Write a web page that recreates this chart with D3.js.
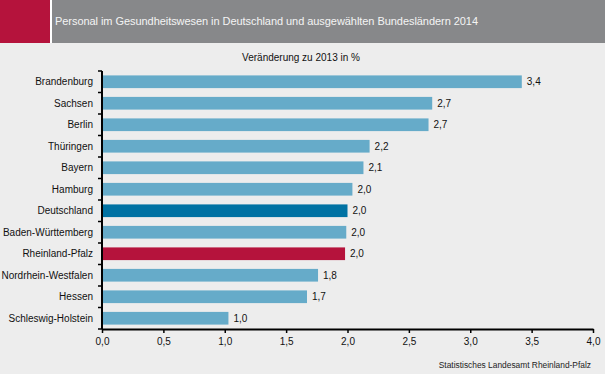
<!DOCTYPE html>
<html>
  <head>
    <meta charset="UTF-8" />
    <style>
      body {
        margin: 0;
        background: #ededed;
      }
      svg {
        display: block;
        font-family: "Liberation Sans", Arial, sans-serif;
      }
    </style>
  </head>
  <body>
    <svg></svg>
    <script src="https://d3js.org/d3.v7.min.js"></script>
    <script>
      let width = 605,
        height = 374;

      // Data
      const laender = [
        "Brandenburg",
        "Sachsen",
        "Berlin",
        "Thüringen",
        "Bayern",
        "Hamburg",
        "Deutschland",
        "Baden-Württemberg",
        "Rheinland-Pfalz",
        "Nordrhein-Westfalen",
        "Hessen",
        "Schleswig-Holstein",
      ];
      const veraenderung = [3.42, 2.69, 2.66, 2.18, 2.13, 2.04, 2.0, 1.99, 1.98, 1.76, 1.67, 1.03];
      const xTicks = [0, 0.5, 1, 1.5, 2, 2.5, 3, 3.5, 4];

      const title = "Personal im Gesundheitswesen in Deutschland und ausgewählten Bundesländern 2014";
      const subtitle = "Veränderung zu 2013 in %";
      const quelle = "Statistisches Landesamt Rheinland-Pfalz";

      const data = laender.map((d, i) => ({ land: d, wert: veraenderung[i] }));

      let svg = d3.select("svg").attr("width", width).attr("height", height);

      svg.append("rect").attr("width", width).attr("height", height).attr("fill", "#ededed");

      // header band
      svg.append("rect").attr("x", 0).attr("y", 0).attr("width", 50).attr("height", 43).attr("fill", "#b5133c");
      svg.append("rect").attr("x", 50).attr("y", 0).attr("width", 2).attr("height", 43).attr("fill", "#ffffff");
      svg.append("rect").attr("x", 52).attr("y", 0).attr("width", width - 52).attr("height", 43).attr("fill", "#87888a");
      svg
        .append("text")
        .attr("x", 55)
        .attr("y", 25)
        .attr("fill", "#f4f4f4")
        .style("font-size", "11px")
        .attr("textLength", 423)
        .attr("lengthAdjust", "spacing")
        .text(title);

      svg
        .append("text")
        .attr("x", 301)
        .attr("y", 61)
        .attr("text-anchor", "middle")
        .attr("fill", "#111")
        .style("font-size", "10px")
        .text(subtitle);

      let x = d3.scaleLinear().domain([0, 4]).range([102, 593]);
      let y = d3.scaleBand().domain(laender).range([71, 329]).paddingInner(0.41).paddingOuter(0.205);

      const de = d3.formatLocale({ decimal: ",", thousands: ".", grouping: [3], currency: ["", "€"] });
      const fmt = de.format(".1f");

      const farbe = (d) =>
        d.land === "Deutschland" ? "#0072a3" : d.land === "Rheinland-Pfalz" ? "#b5133c" : "#66abc9";

      svg
        .append("g")
        .selectAll("rect")
        .data(data)
        .enter()
        .append("rect")
        .attr("x", x(0))
        .attr("y", (d) => y(d.land))
        .attr("width", (d) => x(d.wert) - x(0))
        .attr("height", y.bandwidth())
        .attr("fill", farbe);

      svg
        .append("g")
        .selectAll("text")
        .data(data)
        .enter()
        .append("text")
        .attr("x", (d) => x(d.wert) + 5)
        .attr("y", (d) => y(d.land) + y.bandwidth() / 2)
        .attr("dy", "0.36em")
        .attr("fill", "#111")
        .style("font-size", "10px")
        .text((d) => fmt(d.wert));

      // y axis with ticks between the bands
      let yAxis = svg.append("g");
      let step = y.step();
      let grenzen = d3.range(laender.length + 1).map((i) => 71 + i * step);
      yAxis
        .append("line")
        .attr("x1", x(0))
        .attr("x2", x(0))
        .attr("y1", 71)
        .attr("y2", 329)
        .attr("stroke", "#000")
        .attr("stroke-width", 2);
      yAxis
        .selectAll(".tk")
        .data(grenzen)
        .enter()
        .append("line")
        .attr("x1", x(0) - 4)
        .attr("x2", x(0))
        .attr("y1", (d) => d)
        .attr("y2", (d) => d)
        .attr("stroke", "#000")
        .attr("stroke-width", 1.5);
      yAxis
        .selectAll("text")
        .data(laender)
        .enter()
        .append("text")
        .attr("x", 93)
        .attr("y", (d) => y(d) + y.bandwidth() / 2)
        .attr("dy", "0.36em")
        .attr("text-anchor", "end")
        .attr("fill", "#111")
        .style("font-size", "10px")
        .text((d) => d);

      // x axis
      let xAxis = svg
        .append("g")
        .attr("transform", "translate(0,329)")
        .call(d3.axisBottom(x).tickValues(xTicks).tickFormat(fmt).tickSize(4).tickSizeOuter(0));
      xAxis.select(".domain").attr("stroke", "#000").attr("stroke-width", 2);
      xAxis.selectAll(".tick line").attr("stroke", "#000").attr("stroke-width", 1.5);
      xAxis
        .selectAll(".tick text")
        .attr("fill", "#111")
        .attr("y", 9)
        .style("font-size", "10px")
        .style("font-family", "'Liberation Sans', Arial, sans-serif");

      svg
        .append("text")
        .attr("x", 591)
        .attr("y", 368)
        .attr("text-anchor", "end")
        .attr("fill", "#222")
        .style("font-size", "8.4px")
        .text(quelle);
    </script>
  </body>
</html>
